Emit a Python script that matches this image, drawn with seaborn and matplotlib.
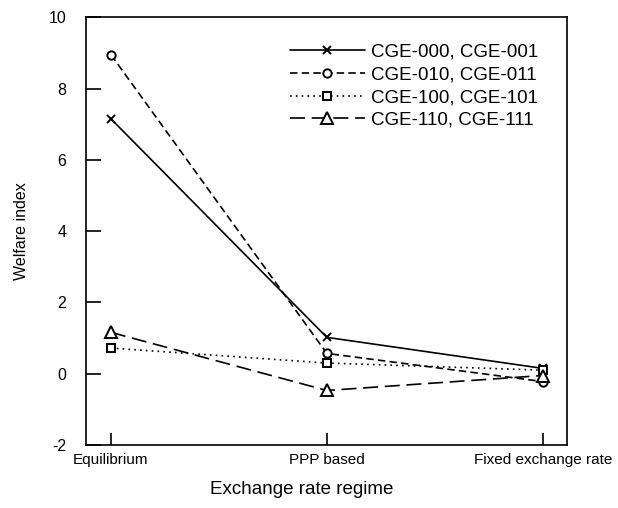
import numpy as np
import pandas as pd
import seaborn as sns
import matplotlib.pyplot as plt

# Values
regimes = ["Equilibrium", "PPP based", "Fixed exchange rate"]
series_names = ["CGE-000, CGE-001", "CGE-010, CGE-011", "CGE-100, CGE-101", "CGE-110, CGE-111"]
cge_000 = [7.15, 1.02, 0.15]
cge_010 = [8.95, 0.57, -0.22]
cge_100 = [0.72, 0.30, 0.10]
cge_110 = [1.16, -0.47, -0.05]

y_ticks = [-2, 0, 2, 4, 6, 8, 10]

sns.set_theme(style="ticks")
plt.rcParams["font.family"] = ["Liberation Sans", "DejaVu Sans"]
plt.rcParams["text.color"] = "black"
plt.rcParams["axes.labelcolor"] = "black"
plt.rcParams["xtick.color"] = "black"
plt.rcParams["ytick.color"] = "black"

rows = []
for name, vals in zip(series_names, [cge_000, cge_010, cge_100, cge_110]):
    for i, v in enumerate(vals):
        rows.append({"series": name, "pos": i, "regime": regimes[i], "welfare": v})
df = pd.DataFrame(rows)

styles = {
    "CGE-000, CGE-001": dict(linestyle="-", marker="x", markersize=6),
    "CGE-010, CGE-011": dict(linestyle=(0, (4.5, 2.5)), marker="o", markersize=6),
    "CGE-100, CGE-101": dict(linestyle=(0, (1, 2.5)), marker="s", markersize=6),
    "CGE-110, CGE-111": dict(linestyle=(0, (9, 4)), marker="^", markersize=8),
}

fig = plt.figure(figsize=(6.18, 5.08), dpi=100)
ax = fig.add_axes([0.139, 0.124, 0.778, 0.842])

for name in series_names:
    sub = df[df["series"] == name]
    st = styles[name]
    sns.lineplot(data=sub, x="pos", y="welfare", ax=ax, color="black",
                 linewidth=1.2, label=name, linestyle=st["linestyle"],
                 marker=st["marker"], markersize=st["markersize"],
                 markerfacecolor="white", markeredgecolor="black",
                 markeredgewidth=1.4)

ax.set_xlim(-0.116, 2.111)
ax.set_ylim(-2, 10)
ax.set_xticks(range(len(regimes)))
ax.set_xticklabels(regimes, fontsize=11)
ax.set_yticks(y_ticks)
ax.set_yticklabels([str(t) for t in y_ticks], fontsize=11.5)
ax.tick_params(axis="y", direction="in", length=11, width=1.2, pad=14,
               color="black", left=True)
ax.tick_params(axis="x", direction="in", length=9, width=1.2, pad=6,
               color="black", bottom=True)
for sp in ax.spines.values():
    sp.set_linewidth(1.2)
    sp.set_color("black")

ax.set_xlabel("Exchange rate regime", fontsize=13.5)
ax.xaxis.set_label_coords(0.449, -0.085)
ax.set_ylabel("Welfare index", fontsize=11.5, labelpad=14)

leg = ax.legend(loc="upper right", bbox_to_anchor=(0.975, 0.978), frameon=False,
                handlelength=4.0, fontsize=13.5, labelspacing=0.3,
                handletextpad=0.3, numpoints=1)

fig.savefig("out.png", dpi=100)
